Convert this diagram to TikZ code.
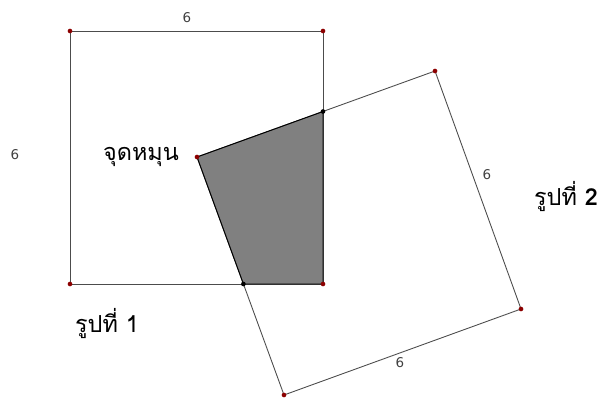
\documentclass[tikz,border=0pt]{standalone}
\usepackage{fontspec}
\setmainfont{DejaVu Sans}
\newfontfamily\thaifont[Script=Thai]{Loma}
\usetikzlibrary{calc}

\tikzset{
    side/.style={draw=black!70, line width=0.75pt},
    vertex/.style={circle, fill=red!55!black, inner sep=0pt, minimum size=4pt},
    cross/.style={circle, fill=black, inner sep=0pt, minimum size=4pt},
    len/.style={font=\fontsize{11.5}{13}\selectfont, text=black!75},
    caption/.style={font=\thaifont\fontsize{20}{24}\selectfont}
}

\begin{document}
\begin{tikzpicture}[x=0.03cm, y=-0.03cm]
    \useasboundingbox (0,0) rectangle (601,399);

    % Square 1
    \coordinate (A) at (70,31);
    \coordinate (B) at (323,31);
    \coordinate (C) at (323,284);
    \coordinate (D) at (70,284);
    % Square 2 (turned about the centre O)
    \coordinate (O) at (197,157);
    \coordinate (P) at (435,71);
    \coordinate (Q) at (521,309);
    \coordinate (R) at (284,395);
    % where the sides cross
    \coordinate (E) at (323,111.5);
    \coordinate (F) at (243.4,284);

    % Overlap
    \fill[black!50] (O) -- (E) -- (C) -- (F) -- cycle;

    \draw[side] (A) -- (B) -- (C) -- (D) -- cycle;
    \draw[side] (O) -- (P) -- (Q) -- (R) -- cycle;
    \draw[black, line width=0.8pt] (O) -- (E) -- (C) -- (F) -- cycle;

    % Points
    \foreach \p in {A,B,C,D,O,P,Q,R}
        \node[vertex] at (\p) {};
    \node[cross] at (E) {};
    \node[cross] at (F) {};

    % Labels
    \node[len] (topsix) at (187,18) {6};
    \node[len] (leftsix) at (15,155) {6};
    \node[len] (rightsix) at (487,175) {6};
    \node[len] (bottomsix) at (400,363) {6};
    \node[caption] (pivot) at (141,157) {จุดหมุน};
    \node[caption] (fig1) at (107,324) {รูปที่ 1};
    \node[caption] (fig2) at (566,197) {รูปที่ \textbf{2}};
\end{tikzpicture}
\end{document}
